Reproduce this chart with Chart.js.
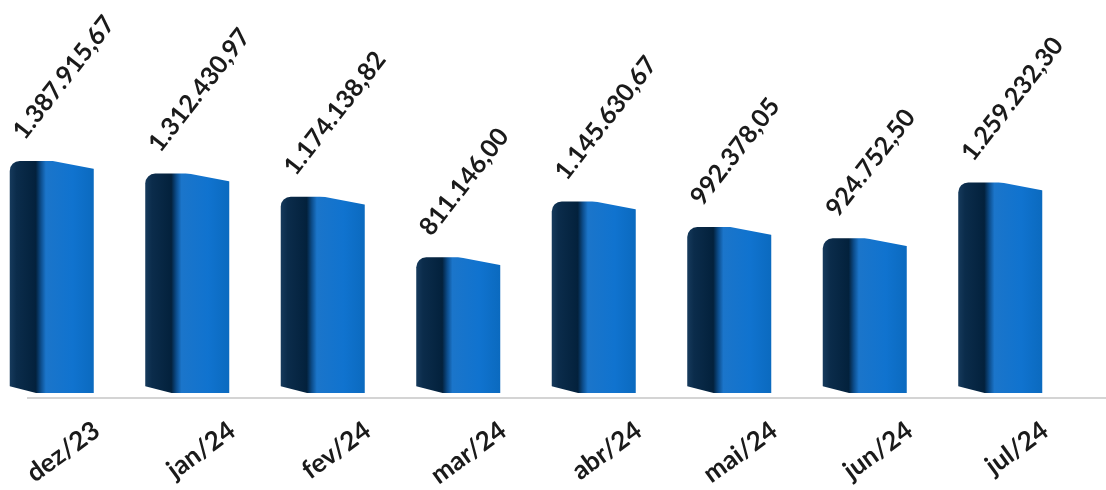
<!DOCTYPE html>
<html>
<head>
<meta charset="utf-8">
<script src="https://cdn.jsdelivr.net/npm/chart.js@4.4.1/dist/chart.umd.min.js"></script>
<style>
  html, body { margin: 0; padding: 0; background: #fff; overflow: hidden; }
  #wrap { position: absolute; left: -16px; top: 0; width: 1122px; height: 490px; }
</style>
</head>
<body>
<div id="wrap"><canvas id="grafico"></canvas></div>
<script>
// Dados do gráfico
const meses = ["dez/23", "jan/24", "fev/24", "mar/24", "abr/24", "mai/24", "jun/24", "jul/24"];
const valores = [1387915.67, 1312430.97, 1174138.82, 811146.00, 1145630.67, 992378.05, 924752.50, 1259232.30];
const rotulos = ["1.387.915,67", "1.312.430,97", "1.174.138,82", "811.146,00", "1.145.630,67", "992.378,05", "924.752,50", "1.259.232,30"];

const fonte = "Lato, 'Open Sans', sans-serif";
const larguraBarra = 0.62;

// Gradiente horizontal de cada barra (efeito 3D), calculado a partir da escala x
function corBarra(c) {
  const chart = c.chart;
  const x = chart.scales.x;
  if (!chart.chartArea || !x || !x.width) return "#1071cb";
  const centro = x.getPixelForValue(c.dataIndex);
  const larg = (x.width / meses.length) * larguraBarra;
  const esq = centro - larg / 2;
  const g = chart.ctx.createLinearGradient(esq, 0, esq + larg, 0);
  g.addColorStop(0, "#163a5c");
  g.addColorStop(0.08, "#0b2c4b");
  g.addColorStop(0.31, "#03213c");
  g.addColorStop(0.37, "#0c4d8c");
  g.addColorStop(0.43, "#1b75ca");
  g.addColorStop(0.75, "#1073cf");
  g.addColorStop(1, "#0b6abf");
  return g;
}

const efeito3D = {
  id: "efeito3D",
  afterDatasetsDraw(chart) {
    const ctx = chart.ctx;
    const area = chart.chartArea;
    ctx.save();
    ctx.fillStyle = "#ffffff";
    chart.getDatasetMeta(0).data.forEach(bar => {
      const esq = bar.x - bar.width / 2, dir = bar.x + bar.width / 2;
      // topo inclinado
      ctx.beginPath();
      ctx.moveTo(esq + bar.width * 0.45, bar.y - 1);
      ctx.lineTo(dir + 1, bar.y - 1);
      ctx.lineTo(dir + 1, bar.y + 8);
      ctx.closePath();
      ctx.fill();
      // base inclinada do lado escuro
      ctx.beginPath();
      ctx.moveTo(esq - 1, bar.base - 7);
      ctx.lineTo(esq - 1, bar.base + 1);
      ctx.lineTo(esq + bar.width * 0.36, bar.base + 1);
      ctx.closePath();
      ctx.fill();
    });
    // linha de base
    ctx.strokeStyle = "#d4d4d4";
    ctx.lineWidth = 2;
    ctx.beginPath();
    ctx.moveTo(area.left + 43, area.bottom + 5);
    ctx.lineTo(chart.width, area.bottom + 5);
    ctx.stroke();
    // rótulos de valores rotacionados
    ctx.fillStyle = "#1a1a1a";
    ctx.font = "bold 25px " + fonte;
    ctx.textAlign = "left";
    ctx.textBaseline = "alphabetic";
    chart.getDatasetMeta(0).data.forEach((bar, i) => {
      ctx.save();
      ctx.translate(bar.x - 27, bar.y - 20);
      ctx.rotate(-52 * Math.PI / 180);
      ctx.fillText(rotulos[i], 0, 0);
      ctx.restore();
    });
    ctx.restore();
  }
};

const ctx = document.getElementById("grafico").getContext("2d");
new Chart(ctx, {
  type: "bar",
  data: {
    labels: meses,
    datasets: [{
      data: valores,
      backgroundColor: corBarra,
      borderRadius: { topLeft: 10, topRight: 6, bottomLeft: 0, bottomRight: 0 },
      borderSkipped: "bottom",
      barPercentage: larguraBarra,
      categoryPercentage: 1
    }]
  },
  options: {
    responsive: true,
    maintainAspectRatio: false,
    animation: false,
    layout: { padding: { left: 0, right: 38, top: 0, bottom: 0 } },
    plugins: {
      legend: { display: false },
      tooltip: { enabled: false }
    },
    scales: {
      x: {
        grid: { display: false },
        border: { display: false },
        ticks: {
          color: "#1a1a1a",
          font: { family: fonte, size: 26, weight: "bold" },
          minRotation: 36,
          maxRotation: 36,
          labelOffset: 45,
          padding: 14
        },
        afterFit(scale) {
          scale.height = 97;
          scale.paddingLeft = 0;
          scale.paddingRight = 0;
        }
      },
      y: {
        display: false,
        min: 0,
        max: 2350000
      }
    }
  },
  plugins: [efeito3D]
});
</script>
</body>
</html>
